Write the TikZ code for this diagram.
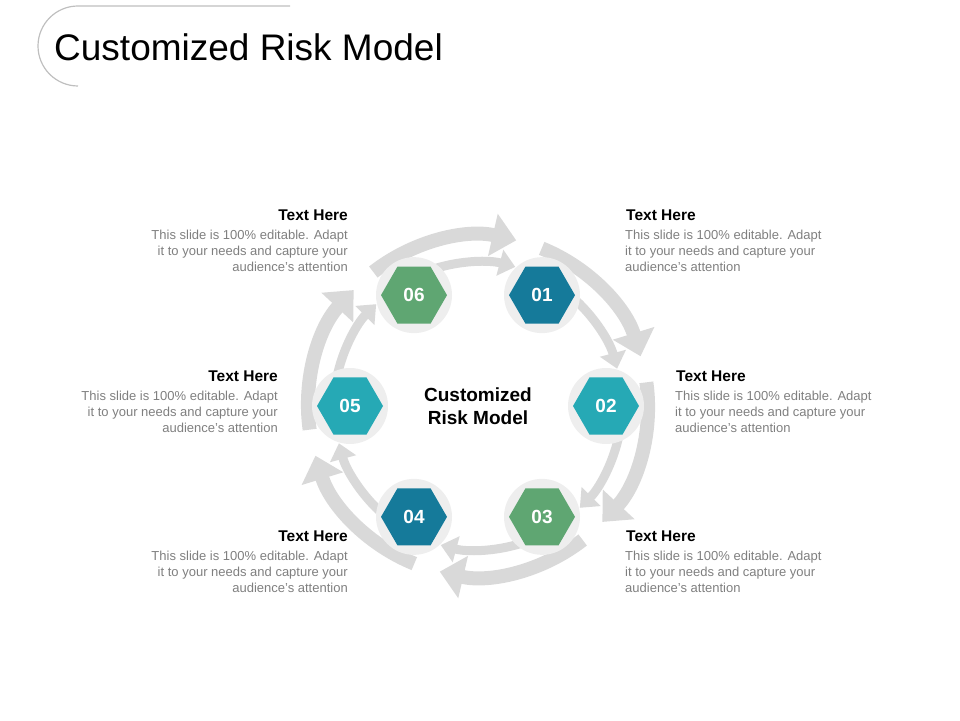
\documentclass[tikz,border=0pt]{standalone}
\usepackage{fontspec}
\setmainfont{Liberation Sans}
\usetikzlibrary{shapes.geometric,arrows.meta,calc}
\definecolor{arr}{HTML}{D9D9D9}
\definecolor{ring}{HTML}{EEEEEE}
\definecolor{cblue}{HTML}{157A9A}
\definecolor{cteal}{HTML}{26A9B5}
\definecolor{cgreen}{HTML}{5FA672}
\definecolor{body}{HTML}{7F7F7F}
\tikzset{
 hexb/.style={regular polygon,regular polygon sides=6,minimum size=66pt,inner sep=0pt,text=white,font=\bfseries\fontsize{19}{19}\selectfont},
 ringc/.style={circle,fill=ring,minimum size=76pt,inner sep=0pt},
 outarr/.style={draw=arr,line width=14pt,-{Triangle[length=24pt,width=42pt]}},
 inarr/.style={draw=arr,line width=9pt,-{Triangle[length=16pt,width=26pt]}},
 hd/.style={font=\bfseries\fontsize{15.5}{17}\selectfont,inner sep=0pt},
 bd/.style={font=\fontsize{13}{16}\selectfont,text=body,inner sep=0pt},
}
\begin{document}
\begin{tikzpicture}[x=1pt,y=1pt]
\useasboundingbox (0,0) rectangle (960,720);
\draw[gray!50,line width=1.2pt] (290,714) -- (78,714) arc (90:270:40);
\node[anchor=west,font=\fontsize{37}{37}\selectfont,inner sep=0pt] (title) at (54,673) {Customized Risk Model};
\coordinate (c) at (478,314);
% arrows
\foreach \a in {120,60,0,-60,-120,180}{
  \draw[outarr] ($(c)+(\a+8:170)$) arc (\a+8:\a-43:170);
  \draw[inarr] ($(c)+(\a-13:144)$) arc (\a-13:\a-45:144);
}
\foreach \n/\a/\col in {01/60/cblue,02/0/cteal,03/-60/cgreen,04/-120/cblue,05/180/cteal,06/120/cgreen}{
  \node[ringc] (r\n) at ($(c)+(\a:128)$) {};
  \node[hexb,fill=\col] (h\n) at (r\n) {\n};
}
\node[font=\bfseries\fontsize{19}{23}\selectfont,align=center] (ctr) at (c) {Customized\\Risk Model};
% texts
\node[hd,anchor=north west] (t1) at (626,510) {Text Here};
\node[bd,anchor=north west,align=left] (b1) at (625,490) {This slide is 100\% editable. Adapt\\it to your needs and capture your\\audience's attention};
\node[hd,anchor=north west] (t2) at (676,349) {Text Here};
\node[bd,anchor=north west,align=left] (b2) at (675,329) {This slide is 100\% editable. Adapt\\it to your needs and capture your\\audience's attention};
\node[hd,anchor=north west] (t3) at (626,189) {Text Here};
\node[bd,anchor=north west,align=left] (b3) at (625,169) {This slide is 100\% editable. Adapt\\it to your needs and capture your\\audience's attention};
\node[hd,anchor=north east] (t4) at (348,189) {Text Here};
\node[bd,anchor=north east,align=right] (b4) at (348,169) {This slide is 100\% editable. Adapt\\it to your needs and capture your\\audience's attention};
\node[hd,anchor=north east] (t5) at (278,349) {Text Here};
\node[bd,anchor=north east,align=right] (b5) at (278,329) {This slide is 100\% editable. Adapt\\it to your needs and capture your\\audience's attention};
\node[hd,anchor=north east] (t6) at (348,510) {Text Here};
\node[bd,anchor=north east,align=right] (b6) at (348,490) {This slide is 100\% editable. Adapt\\it to your needs and capture your\\audience's attention};
\end{tikzpicture}
\end{document}
